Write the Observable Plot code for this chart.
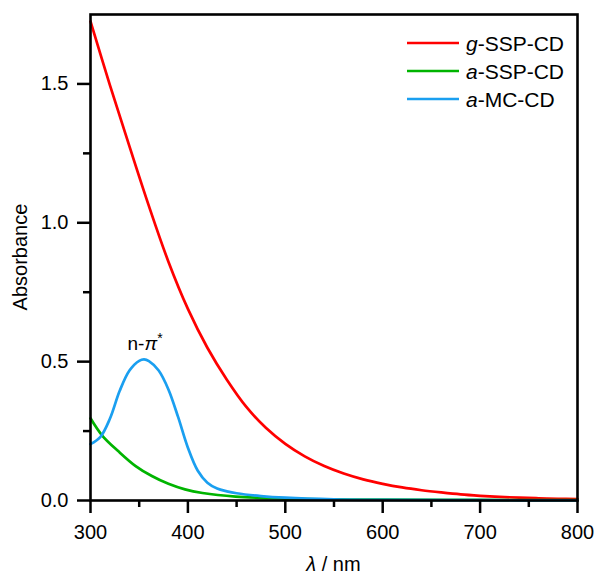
<!DOCTYPE html>
<html>
<head>
<meta charset="utf-8">
<script src="https://cdn.jsdelivr.net/npm/d3@7"></script>
<script src="https://cdn.jsdelivr.net/npm/@observablehq/plot@0.6"></script>
<style>
  html, body { margin: 0; padding: 0; background: #fff; }
  #chart svg { display: block; }
</style>
</head>
<body>
<div id="chart"></div>
<script>
// ---- data ----
const seriesNames = ["g-SSP-CD", "a-SSP-CD", "a-MC-CD"];
const seriesColors = ["#ff0000", "#00b400", "#1a9ff0"];

const redX = [300,320,340,360,380,400,420,440,460,480,500,520,540,560,580,600,620,640,660,680,700,720,740,760,780,800];
const redY = [1.725,1.495,1.275,1.06,0.86,0.69,0.55,0.435,0.337,0.262,0.204,0.159,0.124,0.097,0.076,0.060,0.047,0.037,0.029,0.022,0.017,0.013,0.010,0.008,0.006,0.005];

const greenX = [300,312,329,346,363,380,397,415,449,500,550,600,700,800];
const greenY = [0.296,0.234,0.176,0.125,0.088,0.060,0.040,0.027,0.014,0.007,0.004,0.003,0.002,0.001];

const blueX = [300,310,320,330,340,350,355,360,370,380,390,400,410,420,430,440,450,475,500,550,600,700,800];
const blueY = [0.203,0.228,0.295,0.395,0.468,0.503,0.508,0.502,0.468,0.400,0.300,0.190,0.108,0.064,0.043,0.033,0.026,0.016,0.010,0.004,0.002,0.001,0.0005];

const xMajor = [300,400,500,600,700,800];
const xMinor = [350,450,550,650,750];
const yMajor = [0,0.5,1.0,1.5];
const yMinor = [0.25,0.75,1.25];

const annotX = [356];
const annotY = [0.565];
const annotText = ["n-π*"];

const xLabel = "λ / nm";
const yLabel = "Absorbance";

// ---- build table ----
const toRows = (xs, ys, s) => xs.map((x, i) => ({x, y: ys[i], s}));
const red = toRows(redX, redY, seriesNames[0]);
const green = toRows(greenX, greenY, seriesNames[1]);
const blue = toRows(blueX, blueY, seriesNames[2]);
const annot = annotX.map((x, i) => ({x, y: annotY[i], t: annotText[i]}));

const font = "'Liberation Sans', Arial, Helvetica, sans-serif";

const chart = Plot.plot({
  width: 595,
  height: 575,
  marginLeft: 90,
  marginRight: 18,
  marginTop: 14,
  marginBottom: 75,
  style: {fontFamily: font, fontSize: "20px", color: "#000", background: "#fff"},
  x: {domain: [300, 800]},
  y: {domain: [0, 1.75]},
  marks: [
    Plot.line(red, {x: "x", y: "y", stroke: seriesColors[0], strokeWidth: 2.7, curve: "catmull-rom"}),
    Plot.line(green, {x: "x", y: "y", stroke: seriesColors[1], strokeWidth: 2.7, curve: "catmull-rom"}),
    Plot.line(blue, {x: "x", y: "y", stroke: seriesColors[2], strokeWidth: 2.7, curve: "catmull-rom"}),
    Plot.axisX({ticks: xMajor, tickSize: 13, tickPadding: 11, strokeWidth: 2.5, label: null, fontSize: 20}),
    Plot.axisX({ticks: xMinor, tickSize: 7, strokeWidth: 2.5, label: null, tickFormat: () => ""}),
    Plot.axisY({ticks: yMajor, tickSize: 13, tickPadding: 9, strokeWidth: 2.5, label: null, fontSize: 20, tickFormat: d3.format(".1f")}),
    Plot.axisY({ticks: yMinor, tickSize: 7, strokeWidth: 2.5, label: null, tickFormat: () => ""}),
    Plot.frame({stroke: "#000", strokeWidth: 2.6}),
    Plot.text(annot, {x: "x", y: "y", text: "t", fontSize: 19, fill: "#000"})
  ]
});

document.getElementById("chart").appendChild(chart);

// ---- post-process: rich text and legend ----
const svg = d3.select(chart);

// annotation with italic pi and superscript star
svg.selectAll("text").filter(function() { return this.textContent === annotText[0]; })
  .each(function() {
    const t = d3.select(this);
    t.text(null);
    t.append("tspan").text("n-");
    t.append("tspan").attr("font-style", "italic").text("π");
    t.append("tspan").attr("font-size", 14).attr("dy", "-0.45em").text("*");
  });

// axis titles
const plotLeft = 90, plotRight = 577, plotTop = 14, plotBottom = 500;
svg.append("text")
  .attr("transform", `translate(${20},${(plotTop + plotBottom) / 2}) rotate(-90)`)
  .attr("text-anchor", "middle")
  .attr("dominant-baseline", "central")
  .attr("font-family", font)
  .attr("font-size", 20)
  .text(yLabel);

const xl = svg.append("text")
  .attr("x", (plotLeft + plotRight) / 2)
  .attr("y", 571)
  .attr("text-anchor", "middle")
  .attr("font-family", font)
  .attr("font-size", 20);
xl.append("tspan").attr("font-style", "italic").text(xLabel.slice(0, 1));
xl.append("tspan").text(xLabel.slice(1));

// legend
const lg = svg.append("g").attr("font-family", font).attr("font-size", 21).attr("text-anchor", "start");
seriesNames.forEach((name, i) => {
  const y = 43 + i * 28;
  lg.append("line")
    .attr("x1", 407).attr("x2", 459).attr("y1", y).attr("y2", y)
    .attr("stroke", seriesColors[i]).attr("stroke-width", 2.7);
  const t = lg.append("text").attr("x", 466).attr("y", y).attr("dy", "0.36em").attr("text-anchor", "start");
  t.append("tspan").attr("font-style", "italic").text(name.slice(0, 1));
  t.append("tspan").text(name.slice(1));
});
</script>
</body>
</html>
